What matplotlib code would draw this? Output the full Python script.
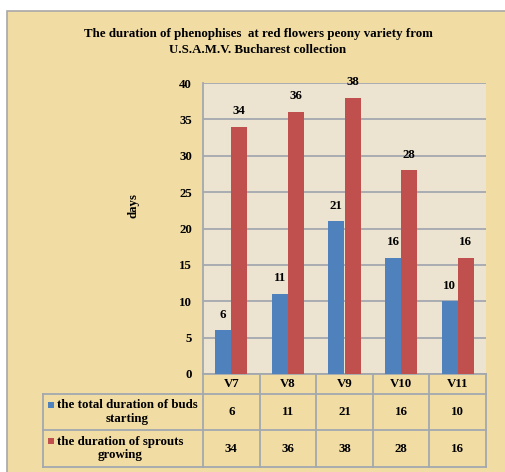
import matplotlib
matplotlib.use('Agg')
import matplotlib.pyplot as plt
import matplotlib.transforms as mtrans
from matplotlib.patches import Rectangle

# data
varieties = ['V7', 'V8', 'V9', 'V10', 'V11']
buds_starting = [6, 11, 21, 16, 10]
sprouts_growing = [34, 36, 38, 28, 16]
series_names = ['the total duration of buds\nstarting', 'the duration of sprouts\ngrowing']

blue = '#4F81BD'
red = '#C0504D'
papyrus = '#F1DCA4'
plot_bg = '#ECE4D0'
line_col = '#A3A8AE'

plt.rcParams['font.family'] = ['Liberation Serif', 'DejaVu Serif']
plt.rcParams['font.weight'] = 'bold'
fs = 9.3

fig = plt.figure(figsize=(5.06, 4.72), dpi=100)
fig.patch.set_facecolor('white')
# papyrus-coloured chart area with a grey frame
fig.patches.append(Rectangle((7/506, -0.05), 1.0, 0.9767 + 0.05, transform=fig.transFigure,
                             facecolor=papyrus, edgecolor='#A8A8A8', lw=1.2, zorder=-10))

ax = fig.add_axes([203/506, 98/472, 283/506, 291/472])
ax.set_facecolor(plot_bg)

x = list(range(len(varieties)))
w = 0.285
ax.bar([i - w/2 for i in x], buds_starting, w, color=blue, zorder=3)
ax.bar([i + w/2 for i in x], sprouts_growing, w, color=red, zorder=3)

for i in x:
    ax.annotate(str(buds_starting[i]), (i - w/2, buds_starting[i]), xytext=(0, 7),
                textcoords='offset points', ha='center', va='bottom', fontsize=fs, fontweight='bold')
    ax.annotate(str(sprouts_growing[i]), (i + w/2, sprouts_growing[i]), xytext=(0, 7),
                textcoords='offset points', ha='center', va='bottom', fontsize=fs, fontweight='bold')

ax.set_xlim(-0.5, len(varieties) - 0.5)
ax.set_ylim(0, 40)
ax.set_yticks(range(0, 41, 5))
ax.set_xticks([])
ax.tick_params(axis='y', length=0, pad=8, labelsize=fs)
ax.yaxis.grid(True, color=line_col, lw=1.3, zorder=1)
for s in ['right', 'bottom', 'top']:
    ax.spines[s].set_visible(False)
ax.spines['left'].set_color(line_col)
ax.spines['left'].set_linewidth(1.3)
ax.set_ylabel('days', fontsize=fs, fontweight='bold')
ax.yaxis.set_label_coords((140 - 203) / 283, (374 - 205) / 291)

fig.text(258/506, 1 - 42/472,
         'The duration of phenophises  at red flowers peony variety from\nU.S.A.M.V. Bucharest collection',
         ha='center', va='center', fontsize=fs, fontweight='bold', linespacing=1.35)

# data table below the axes
ph = 291.0
tx0 = (43 - 203) / 283
rows_y = [0, -20/ph, -56/ph, -93/ph]
lk = dict(color=line_col, lw=1.3, transform=ax.transAxes, clip_on=False)
ax.plot([0, 1], [rows_y[0]] * 2, **lk)
for yy in rows_y[1:]:
    ax.plot([tx0, 1], [yy] * 2, **lk)
ax.plot([tx0, tx0], [rows_y[1], rows_y[3]], **lk)
for k in range(len(varieties) + 1):
    xx = k / len(varieties)
    ax.plot([xx, xx], [rows_y[0], rows_y[3]], **lk)

blend = mtrans.blended_transform_factory(ax.transData, ax.transAxes)
for i in x:
    ax.text(i, (rows_y[0] + rows_y[1]) / 2, varieties[i], transform=blend,
            ha='center', va='center', fontsize=fs, fontweight='bold')
    ax.text(i, (rows_y[1] + rows_y[2]) / 2, str(buds_starting[i]), transform=blend,
            ha='center', va='center', fontsize=fs, fontweight='bold')
    ax.text(i, (rows_y[2] + rows_y[3]) / 2, str(sprouts_growing[i]), transform=blend,
            ha='center', va='center', fontsize=fs, fontweight='bold')

# row labels with legend keys
for r, (name, col) in enumerate(zip(series_names, [blue, red])):
    yc = (rows_y[r + 1] + rows_y[r + 2]) / 2
    ax.text((57 - 203) / 283, yc, name, transform=ax.transAxes, ha='left', va='center',
            multialignment='center', fontsize=fs, fontweight='bold', linespacing=1.2)
    ytop = rows_y[r + 1] - 8/ph
    ax.add_patch(Rectangle(((48 - 203) / 283, ytop - 6/ph), 6/283, 6/ph,
                           transform=ax.transAxes, facecolor=col, clip_on=False))

fig.savefig('out.png', dpi=100)
